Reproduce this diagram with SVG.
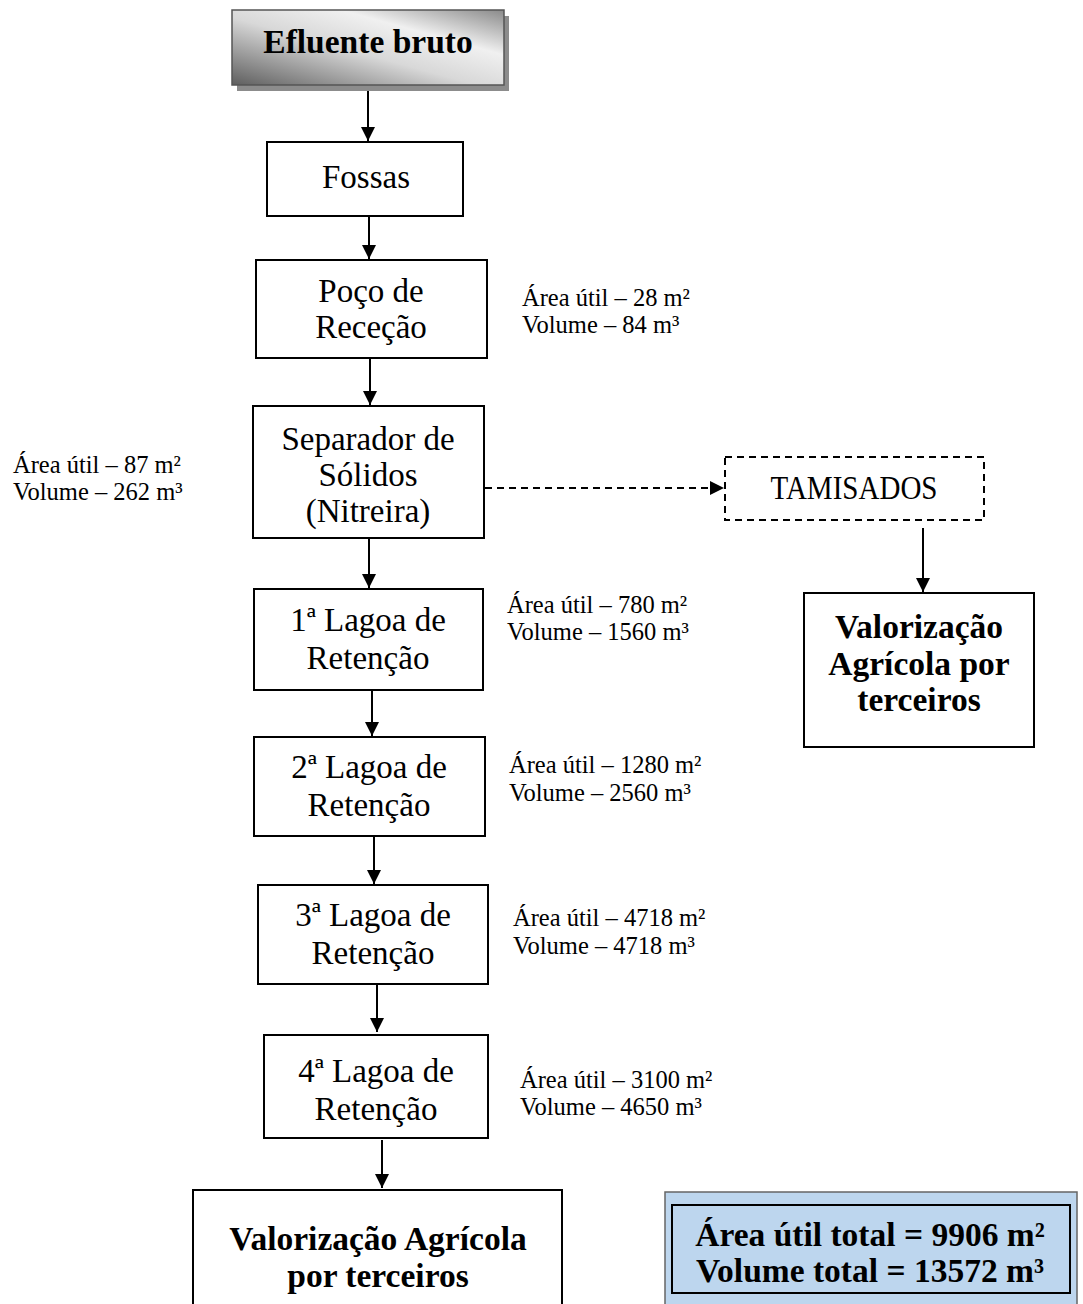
<svg xmlns="http://www.w3.org/2000/svg" width="1083" height="1304" viewBox="0 0 1083 1304">
<defs>
<marker id="ah" markerUnits="userSpaceOnUse" markerWidth="14" markerHeight="16" refX="14" refY="7" orient="auto">
<path d="M0,0 L14,7 L0,14 Z" fill="#000"/>
</marker>
<linearGradient id="gr" x1="0" y1="1" x2="1" y2="0">
<stop offset="0" stop-color="#5e5e5e"/>
<stop offset="0.45" stop-color="#d8d8d8"/>
<stop offset="0.7" stop-color="#f0f0f0"/>
<stop offset="1" stop-color="#8a8a8a"/>
</linearGradient>
<style>
.box{fill:#fff;stroke:#000;stroke-width:2}
.t{font-family:"Liberation Serif","Times New Roman",serif;font-size:33px;fill:#000;text-anchor:middle}
.b{font-family:"Liberation Serif","Times New Roman",serif;font-size:33.5px;font-weight:bold;fill:#000;text-anchor:middle}
.a{font-family:"Liberation Serif","Times New Roman",serif;font-size:24.5px;fill:#000}
.c{stroke:#000;stroke-width:2;fill:none}
.d{stroke:#000;stroke-width:2;fill:none;stroke-dasharray:7,5}
</style>
</defs>
<rect width="1083" height="1304" fill="#fff"/>

<g id="efluente">
<rect x="237" y="16" width="272" height="75" fill="#8c8c8c"/>
<rect x="232" y="10" width="272" height="75" fill="url(#gr)" stroke="#555" stroke-width="1.5"/>
<text class="b" x="368" y="53">Efluente bruto</text>
</g>

<g id="fossas">
<rect class="box" x="267" y="142" width="196" height="74"/>
<text class="t" x="366" y="188">Fossas</text>
</g>

<g id="poco">
<rect class="box" x="256" y="260" width="231" height="98"/>
<text class="t" x="371" y="302">Poço de</text>
<text class="t" x="371" y="338">Receção</text>
</g>
<g id="poco-info">
<text class="a" x="522" y="306">Área útil – 28 m²</text>
<text class="a" x="522" y="333">Volume – 84 m³</text>
</g>

<g id="separador">
<rect class="box" x="253" y="406" width="231" height="132"/>
<text class="t" x="368" y="450">Separador de</text>
<text class="t" x="368" y="486">Sólidos</text>
<text class="t" x="368" y="522">(Nitreira)</text>
</g>
<g id="separador-info">
<text class="a" x="13" y="473">Área útil – 87 m²</text>
<text class="a" x="13" y="500">Volume – 262 m³</text>
</g>

<g id="tamisados">
<rect class="d" x="725" y="457" width="259" height="63"/>
<text class="t" x="854" y="499" textLength="167" lengthAdjust="spacingAndGlyphs">TAMISADOS</text>
</g>

<g id="valorizacao1">
<rect class="box" x="804" y="593" width="230" height="154"/>
<text class="b" x="919" y="638">Valorização</text>
<text class="b" x="919" y="675">Agrícola por</text>
<text class="b" x="919" y="711">terceiros</text>
</g>

<g id="lagoa1">
<rect class="box" x="254" y="589" width="229" height="101"/>
<text class="t" x="368" y="631">1ª Lagoa de</text>
<text class="t" x="368" y="669">Retenção</text>
</g>
<g id="lagoa1-info">
<text class="a" x="507" y="613">Área útil – 780 m²</text>
<text class="a" x="507" y="640">Volume – 1560 m³</text>
</g>

<g id="lagoa2">
<rect class="box" x="254" y="737" width="231" height="99"/>
<text class="t" x="369" y="778">2ª Lagoa de</text>
<text class="t" x="369" y="816">Retenção</text>
</g>
<g id="lagoa2-info">
<text class="a" x="509" y="773">Área útil – 1280 m²</text>
<text class="a" x="509" y="801">Volume – 2560 m³</text>
</g>

<g id="lagoa3">
<rect class="box" x="258" y="885" width="230" height="99"/>
<text class="t" x="373" y="926">3ª Lagoa de</text>
<text class="t" x="373" y="964">Retenção</text>
</g>
<g id="lagoa3-info">
<text class="a" x="513" y="926">Área útil – 4718 m²</text>
<text class="a" x="513" y="954">Volume – 4718 m³</text>
</g>

<g id="lagoa4">
<rect class="box" x="264" y="1035" width="224" height="103"/>
<text class="t" x="376" y="1082">4ª Lagoa de</text>
<text class="t" x="376" y="1120">Retenção</text>
</g>
<g id="lagoa4-info">
<text class="a" x="520" y="1088">Área útil – 3100 m²</text>
<text class="a" x="520" y="1115">Volume – 4650 m³</text>
</g>

<g id="valorizacao2">
<rect class="box" x="193" y="1190" width="369" height="127"/>
<text class="b" x="378" y="1250">Valorização Agrícola</text>
<text class="b" x="378" y="1287">por terceiros</text>
</g>

<g id="totais">
<rect x="665" y="1192" width="412" height="125" fill="#bdd6ee" stroke="#666" stroke-width="1.5"/>
<rect x="672" y="1205" width="398" height="88" fill="none" stroke="#000" stroke-width="2"/>
<text class="b" x="870" y="1246">Área útil total = 9906 m²</text>
<text class="b" x="870" y="1282">Volume total = 13572 m³</text>
</g>

<g id="connectors">
<line class="c" x1="368" y1="91" x2="368" y2="141" marker-end="url(#ah)"/>
<line class="c" x1="369" y1="217" x2="369" y2="259" marker-end="url(#ah)"/>
<line class="c" x1="370" y1="359" x2="370" y2="405" marker-end="url(#ah)"/>
<line class="c" x1="369" y1="539" x2="369" y2="588" marker-end="url(#ah)"/>
<line class="c" x1="372" y1="691" x2="372" y2="736" marker-end="url(#ah)"/>
<line class="c" x1="374" y1="837" x2="374" y2="884" marker-end="url(#ah)"/>
<line class="c" x1="377" y1="985" x2="377" y2="1032" marker-end="url(#ah)"/>
<line class="c" x1="382" y1="1140" x2="382" y2="1188" marker-end="url(#ah)"/>
<line class="c" x1="923" y1="528" x2="923" y2="592" marker-end="url(#ah)"/>
<line class="d" x1="485" y1="488" x2="724" y2="488" marker-end="url(#ah)"/>
</g>
</svg>
